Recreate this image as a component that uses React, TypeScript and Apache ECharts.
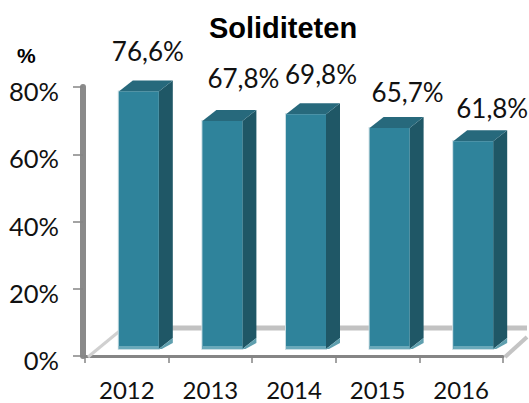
import React, { useEffect, useRef } from "react";
import * as echarts from "echarts";

const categories = ["2012", "2013", "2014", "2015", "2016"];
const soliditet = [76.6, 67.8, 69.8, 65.7, 61.8];
const yTicks = [0, 20, 40, 60, 80];

// 3D appearance and per-label placement (relative to the bar's top)
const frontDx = 12;
const frontDy = -7;
const depthX = 14;
const depthY = -11;
const barW = 40;
const labelDx = [9, 21, 15, 18, 19];
const labelDy = [-40, -43, -40, -36, -33];

const left = 85;
const right = 503;
const top = 87;
const bottom = 356;

export default function App() {
  const ref = useRef<HTMLDivElement>(null);
  useEffect(() => {
    document.body.style.margin = "0";
    const chart = echarts.init(ref.current!, undefined, { renderer: "svg" });
    chart.setOption({
      animation: false,
      backgroundColor: "#fff",
      title: {
        text: "Soliditeten",
        left: 278,
        top: 8,
        textAlign: "center",
        textStyle: { fontFamily: "Liberation Sans", fontWeight: "bold", fontSize: 29, color: "#000" },
      },
      grid: { left, top, width: right - left, height: bottom - top },
      xAxis: {
        type: "category",
        data: categories,
        offset: 2,
        axisLine: { lineStyle: { color: "#858585", width: 3 } },
        axisTick: { show: true, alignWithLabel: false, length: 7, lineStyle: { color: "#858585", width: 1.5 } },
        axisLabel: { fontFamily: "Lato", fontSize: 24, color: "#111", margin: 19 },
      },
      yAxis: {
        type: "value",
        min: 0,
        max: 80,
        interval: 20,
        offset: 2,
        axisLine: { show: true, lineStyle: { color: "#8a8a8a", width: 6 } },
        axisTick: { show: true, length: 10, lineStyle: { color: "#858585", width: 1.5 } },
        splitLine: { show: false },
        axisLabel: {
          fontFamily: "Lato",
          fontSize: 25.5,
          color: "#111",
          margin: 24,
          verticalAlign: "top",
          lineHeight: 8,
          formatter: (v: number) => (yTicks.includes(v) ? `${v}%` : ""),
        },
      },
      graphic: [
        { type: "text", x: 17, y: 45, style: { text: "%", fontFamily: "Liberation Sans", fontWeight: "bold", fontSize: 21, fill: "#000" } },
        { type: "line", z: 1, shape: { x1: 88, y1: 357, x2: 122, y2: 329 }, style: { stroke: "#d0d0d0", lineWidth: 3 } },
        { type: "line", z: 1, shape: { x1: 120, y1: 328, x2: 527, y2: 328 }, style: { stroke: "#c2c2c2", lineWidth: 5 } },
        { type: "line", z: 1, shape: { x1: 505, y1: 357, x2: 527, y2: 337 }, style: { stroke: "#c4c4c4", lineWidth: 4 } },
      ],
      series: [
        {
          type: "custom",
          z: 5,
          data: soliditet.map((v, i) => [i, v]),
          encode: { x: 0, y: 1 },
          renderItem: (params: any, api: any) => {
            const i = api.value(0) as number;
            const val = api.value(1) as number;
            const tp = api.coord([i, val]);
            const bs = api.coord([i, 0]);
            const x0 = tp[0] - barW / 2 + frontDx;
            const x1 = x0 + barW;
            const yT = tp[1] + frontDy;
            const yB = bs[1] + frontDy;
            const dx = depthX;
            const dy = depthY;
            return {
              type: "group",
              children: [
                { type: "rect", shape: { x: x0 - 1, y: yT - 1, width: barW + 2, height: yB - yT + 2 }, style: { fill: "#c9dde3" } },
                { type: "polygon", shape: { points: [[x1, yT], [x1 + dx, yT + dy], [x1 + dx, yB + dy], [x1, yB]] }, style: { fill: "#1f5766" } },
                { type: "polygon", shape: { points: [[x0, yT], [x0 + dx, yT + dy], [x1 + dx, yT + dy], [x1, yT]] }, style: { fill: "#27697c" } },
                { type: "polygon", shape: { points: [[x1, yB], [x1 + dx, yB + dy], [x1 + dx, yB + dy + 5], [x1 + 3, yB]] }, style: { fill: "#5f9fae" } },
                { type: "rect", shape: { x: x0, y: yT, width: barW, height: yB - yT }, style: { fill: "#2f839b" } },
                { type: "rect", shape: { x: x0, y: yB - 3, width: barW, height: 3 }, style: { fill: "#6aa9ba" } },
                {
                  type: "text",
                  x: tp[0] + labelDx[i] + frontDx,
                  y: yT + labelDy[i],
                  style: {
                    text: val.toFixed(1).replace(".", ",") + "%",
                    fontFamily: "Lato",
                    fontSize: 26,
                    fill: "#111",
                    align: "center",
                    verticalAlign: "middle",
                  },
                },
              ],
            };
          },
        },
      ],
    });
    return () => chart.dispose();
  }, []);
  return <div ref={ref} style={{ width: 529, height: 403 }} />;
}
